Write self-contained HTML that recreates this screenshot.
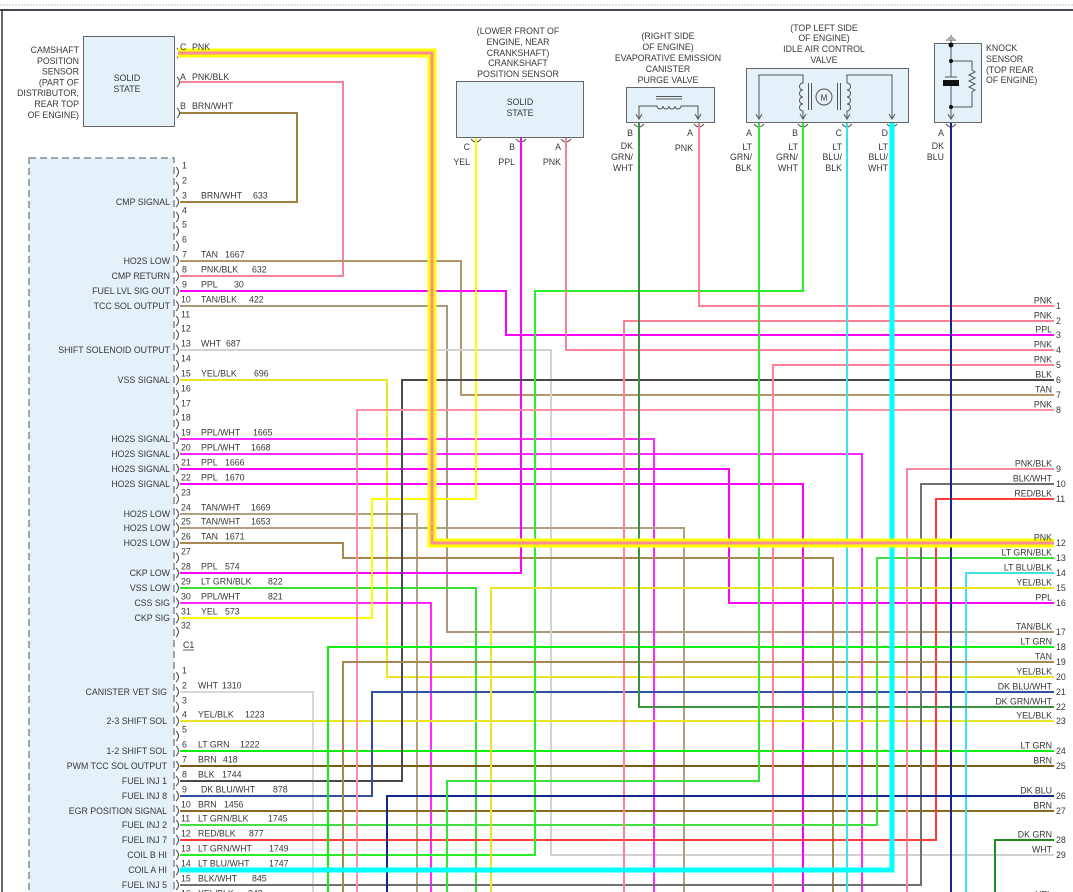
<!DOCTYPE html>
<html><head><meta charset="utf-8">
<style>
html,body{margin:0;padding:0;background:#fff;}
svg{display:block;}
text{font-family:"Liberation Sans",Arial,sans-serif;font-size:8.8px;fill:#383838;}
.e{text-anchor:end;}
.m{text-anchor:middle;}
</style></head><body>
<svg width="1073" height="892" viewBox="0 0 1073 892" xmlns="http://www.w3.org/2000/svg">
<rect width="1073" height="892" fill="#fff"/>
<!-- frame -->
<line x1="0" y1="5" x2="1073" y2="5" stroke="#c4c4c4" stroke-dasharray="2,1"/>
<line x1="0" y1="10" x2="1073" y2="10" stroke="#4a4450" stroke-width="2"/>
<line x1="2" y1="10" x2="2" y2="892" stroke="#333" stroke-width="1.5"/>

<!-- boxes -->
<rect x="29" y="158" width="145" height="760" fill="#e4f1f8" stroke="#8a8a8a" stroke-width="1.5" stroke-dasharray="7,4"/>
<rect x="83.5" y="36.5" width="91" height="90" fill="#e4f1f8" stroke="#666"/>
<rect x="456.5" y="81.5" width="127" height="56" fill="#e4f1f8" stroke="#666"/>
<rect x="626.5" y="87.5" width="88" height="35" fill="#e4f1f8" stroke="#666"/>
<rect x="746.5" y="68.5" width="162" height="54" fill="#e4f1f8" stroke="#666"/>
<rect x="934.5" y="43.5" width="47" height="79" fill="#e4f1f8" stroke="#666"/>

<!-- evap internals -->
<g fill="none" stroke="#555" stroke-width="1">
<line x1="656" y1="96.5" x2="682" y2="96.5"/>
<line x1="656" y1="99" x2="682" y2="99"/>
<path d="M639,119V106H657 a3,3 0 0 0 6,0 a3,3 0 0 0 6,0 a3,3 0 0 0 6,0 a3,3 0 0 0 6,0 H698V119"/>
<path d="M636,114L639,119L642,114M695,114L698,119L701,114"/>
<!-- IAC internals -->
<path d="M759,119V75H803V83 a3.5,3.5 0 0 0 0,7 a3.5,3.5 0 0 0 0,7 a3.5,3.5 0 0 0 0,7 a3.5,3.5 0 0 0 0,7 V119"/>
<line x1="808.5" y1="83" x2="808.5" y2="110"/>
<line x1="811.5" y1="83" x2="811.5" y2="110"/>
<circle cx="824" cy="97" r="8"/>
<line x1="837.5" y1="83" x2="837.5" y2="110"/>
<line x1="840.5" y1="83" x2="840.5" y2="110"/>
<path d="M847,119V111 a3.5,3.5 0 0 0 0,-7 a3.5,3.5 0 0 0 0,-7 a3.5,3.5 0 0 0 0,-7 a3.5,3.5 0 0 0 0,-7 V75H892V119"/>
<path d="M756,114L759,119L762,114M800,114L803,119L806,114M844,114L847,119L850,114M889,114L892,119L895,114"/>
<!-- knock internals -->
<path d="M951,44V77M951,86V119M951,61H972V70 l3,2 -6,3 6,3 -6,3 6,3 -6,3 6,3 -3,2 V107H951"/>
<line x1="945" y1="77" x2="957" y2="77"/>
<path d="M948,114L951,119L954,114"/>
<line x1="946" y1="40" x2="956" y2="40"/>
<line x1="948" y1="38" x2="954" y2="38"/>
<line x1="950" y1="36" x2="952" y2="36"/>
<line x1="951" y1="40" x2="951" y2="44"/>
<!-- arcs below sensors -->
<path d="M471,139Q476,145 481,139M516,139Q521,145 526,139M561,139Q566,145 571,139"/>
<path d="M634,124Q639,130 644,124M694,124Q699,130 704,124"/>
<path d="M754,124Q759,130 764,124M798,124Q803,130 808,124M842,124Q847,130 852,124M887,124Q892,130 897,124M946,124Q951,130 956,124"/>
</g>
<rect x="943" y="80" width="16" height="6" fill="#111"/>
<circle cx="951" cy="45" r="2.5" fill="#111"/>
<circle cx="951" cy="61" r="2" fill="#111"/>
<circle cx="951" cy="107" r="2" fill="#111"/>
<text x="824" y="100.5" class="m" style="font-size:8px">M</text>

<!-- brackets -->
<path fill="none" stroke="#555" stroke-width="1.1" d="M177,48Q182,53 177,58M177,77Q182,82 177,87M177,108Q182,113 177,118
M176,167Q181,172 176,177M176,182Q181,187 176,192M176,197Q181,202 176,207M176,212Q181,217 176,222M176,226Q181,231 176,236M176,241Q181,246 176,251M176,256Q181,261 176,266M176,271Q181,276 176,281M176,286Q181,291 176,296M176,301Q181,306 176,311M176,316Q181,321 176,326M176,330Q181,335 176,340M176,345Q181,350 176,355M176,360Q181,365 176,370M176,375Q181,380 176,385M176,390Q181,395 176,400M176,405Q181,410 176,415M176,419Q181,424 176,429M176,434Q181,439 176,444M176,449Q181,454 176,459M176,464Q181,469 176,474M176,479Q181,484 176,489M176,494Q181,499 176,504M176,509Q181,514 176,519M176,523Q181,528 176,533M176,538Q181,543 176,548M176,553Q181,558 176,563M176,568Q181,573 176,578M176,583Q181,588 176,593M176,598Q181,603 176,608M176,613Q181,618 176,623M176,627Q181,632 176,637
M176,672Q181,677 176,682M176,687Q181,692 176,697M176,702Q181,707 176,712M176,716Q181,721 176,726M176,731Q181,736 176,741M176,746Q181,751 176,756M176,761Q181,766 176,771M176,776Q181,781 176,786M176,791Q181,796 176,801M176,806Q181,811 176,816M176,820Q181,825 176,830M176,835Q181,840 176,845M176,850Q181,855 176,860M176,865Q181,870 176,875M176,880Q181,885 176,890"/>

<!-- wires -->
<g fill="none" stroke-width="2">
<path d="M180,82H343V276H180" stroke="#f5849a"/>
<path d="M180,113H297V202H180" stroke="#a08040"/>
<path d="M180,261H461V395H1054" stroke="#b09868"/>
<path d="M180,291H506V335H1054" stroke="#ff00ff"/>
<path d="M180,306H447V632H1054" stroke="#a89a78"/>
<path d="M180,350H551V855H1054" stroke="#d2d2d2"/>
<path d="M180,380H387V677H1054" stroke="#ece424"/>
<path d="M180,439H654V892" stroke="#ff28ff"/>
<path d="M180,454H862V892" stroke="#ff28ff"/>
<path d="M180,469H729V603H1054" stroke="#ff00ff"/>
<path d="M180,484H803V892" stroke="#ff00ff"/>
<path d="M180,514H417V892" stroke="#b0a080"/>
<path d="M180,528H684V892" stroke="#b0a080"/>
<path d="M180,543H343V558H833V892" stroke="#a88850"/>
<path d="M180,573H521V138" stroke="#ff00ff"/>
<path d="M180,588H476V892" stroke="#38e038"/>
<path d="M180,603H431V892" stroke="#ff28ff"/>
<path d="M180,618H372V499H476V138" stroke="#ffff00"/>
<path d="M180,692H313V892" stroke="#d8d8d8"/>
<path d="M180,721H1054" stroke="#ece424"/>
<path d="M180,751H1054" stroke="#10ee10"/>
<path d="M180,766H1054" stroke="#7a5a14"/>
<path d="M180,781H402V380H1054" stroke="#4a4a4a"/>
<path d="M180,796H372V692H1054" stroke="#3050a8"/>
<path d="M180,811H1054" stroke="#8a6a24"/>
<path d="M180,825H877V558H1054" stroke="#40e040"/>
<path d="M180,840H936V499H1054" stroke="#ff3838"/>
<path d="M180,855H535V291H803V123" stroke="#28f028"/>
<path d="M180,885H921V484H1054" stroke="#707070"/>
<path d="M699,123V306H1054" stroke="#ff7f95"/>
<path d="M624,892V321H1054" stroke="#ff7f95"/>
<path d="M566,138V350H1054" stroke="#ff7f95"/>
<path d="M773,892V365H1054" stroke="#ff7f95"/>
<path d="M357,892V410H1054" stroke="#ff8fa5"/>
<path d="M907,892V469H1054" stroke="#f888a0"/>
<path d="M966,892V573H1054" stroke="#40e0e8"/>
<path d="M491,892V588H1054" stroke="#ece424"/>
<path d="M328,892V647H1054" stroke="#10ee10"/>
<path d="M343,892V662H1054" stroke="#a88850"/>
<path d="M639,123V707H1054" stroke="#3c9040"/>
<path d="M387,892V796H1054" stroke="#102890"/>
<path d="M995,892V840H1054" stroke="#208c20"/>
<path d="M759,123V781H447V892" stroke="#38e038"/>
<path d="M847,123V892" stroke="#40e0e8"/>
<path d="M180,870H892V123" stroke="#00ffff" stroke-width="5"/>
<path d="M951,123V892" stroke="#102890"/>
<path d="M178,53H432V543H1054" stroke="#ffff00" stroke-width="9"/>
<path d="M178,53H432V543H1054" stroke="#ff8a9a" stroke-width="3"/>
</g>

<!-- camshaft sensor text -->
<text x="79" y="53" class="e">CAMSHAFT</text>
<text x="79" y="64" class="e">POSITION</text>
<text x="79" y="74.6" class="e">SENSOR</text>
<text x="79" y="85.4" class="e">(PART OF</text>
<text x="79" y="96.2" class="e">DISTRIBUTOR,</text>
<text x="79" y="107" class="e">REAR TOP</text>
<text x="79" y="117.8" class="e">OF ENGINE)</text>
<text x="127" y="81" class="m">SOLID</text>
<text x="127" y="92" class="m">STATE</text>
<text x="180" y="50">C</text><text x="192" y="50">PNK</text>
<text x="180" y="80">A</text><text x="192" y="80">PNK/BLK</text>
<text x="180" y="109">B</text><text x="192" y="109">BRN/WHT</text>

<!-- CKP sensor -->
<text x="518" y="34" class="m">(LOWER FRONT OF</text>
<text x="518" y="45" class="m">ENGINE, NEAR</text>
<text x="518" y="56" class="m">CRANKSHAFT)</text>
<text x="518" y="66" class="m">CRANKSHAFT</text>
<text x="518" y="77" class="m">POSITION SENSOR</text>
<text x="520" y="105" class="m">SOLID</text>
<text x="520" y="116" class="m">STATE</text>
<text x="470" y="150" class="e">C</text><text x="470" y="165" class="e">YEL</text>
<text x="515" y="150" class="e">B</text><text x="515" y="165" class="e">PPL</text>
<text x="561" y="150" class="e">A</text><text x="561" y="165" class="e">PNK</text>

<!-- evap -->
<text x="668" y="39" class="m">(RIGHT SIDE</text>
<text x="668" y="50" class="m">OF ENGINE)</text>
<text x="668" y="61" class="m">EVAPORATIVE EMISSION</text>
<text x="668" y="72" class="m">CANISTER</text>
<text x="668" y="83" class="m">PURGE VALVE</text>
<text x="633" y="136" class="e">B</text>
<text x="633" y="149" class="e">DK</text>
<text x="633" y="160" class="e">GRN/</text>
<text x="633" y="171" class="e">WHT</text>
<text x="693" y="136" class="e">A</text>
<text x="693" y="151" class="e">PNK</text>

<!-- IAC -->
<text x="824" y="31" class="m">(TOP LEFT SIDE</text>
<text x="824" y="41" class="m">OF ENGINE)</text>
<text x="824" y="52" class="m">IDLE AIR CONTROL</text>
<text x="824" y="63" class="m">VALVE</text>
<text x="752" y="136" class="e">A</text><text x="752" y="150" class="e">LT</text><text x="752" y="160" class="e">GRN/</text><text x="752" y="171" class="e">BLK</text>
<text x="798" y="136" class="e">B</text><text x="798" y="150" class="e">LT</text><text x="798" y="160" class="e">GRN/</text><text x="798" y="171" class="e">WHT</text>
<text x="842" y="136" class="e">C</text><text x="842" y="150" class="e">LT</text><text x="842" y="160" class="e">BLU/</text><text x="842" y="171" class="e">BLK</text>
<text x="888" y="136" class="e">D</text><text x="888" y="150" class="e">LT</text><text x="888" y="160" class="e">BLU/</text><text x="888" y="171" class="e">WHT</text>

<!-- knock -->
<text x="986" y="51">KNOCK</text>
<text x="986" y="62">SENSOR</text>
<text x="986" y="73">(TOP REAR</text>
<text x="986" y="83">OF ENGINE)</text>
<text x="944" y="136" class="e">A</text>
<text x="944" y="149" class="e">DK</text>
<text x="944" y="160" class="e">BLU</text>

<!-- connector 1 pin numbers -->
<g>
<text x="182" y="168.5">1</text><text x="182" y="183.5">2</text><text x="182" y="198.5">3</text><text x="182" y="213.5">4</text>
<text x="182" y="227.5">5</text><text x="182" y="242.5">6</text><text x="182" y="257.5">7</text><text x="182" y="272.5">8</text>
<text x="182" y="287.5">9</text><text x="181" y="302.5">10</text><text x="181" y="317.5">11</text><text x="181" y="331.5">12</text>
<text x="181" y="346.5">13</text><text x="181" y="361.5">14</text><text x="181" y="376.5">15</text><text x="181" y="391.5">16</text>
<text x="181" y="406.5">17</text><text x="181" y="420.5">18</text><text x="181" y="435.5">19</text><text x="181" y="450.5">20</text>
<text x="181" y="465.5">21</text><text x="181" y="480.5">22</text><text x="181" y="495.5">23</text><text x="181" y="510.5">24</text>
<text x="181" y="524.5">25</text><text x="181" y="539.5">26</text><text x="181" y="554.5">27</text><text x="181" y="569.5">28</text>
<text x="181" y="584.5">29</text><text x="181" y="599.5">30</text><text x="181" y="614.5">31</text><text x="181" y="628.5">32</text>
</g>
<text x="183" y="648">C1</text>
<line x1="183" y1="650" x2="194" y2="650" stroke="#383838" stroke-width="0.8"/>
<!-- C2 pin numbers -->
<g>
<text x="182" y="673.5">1</text><text x="182" y="688.5">2</text><text x="182" y="703.5">3</text><text x="182" y="717.5">4</text>
<text x="182" y="732.5">5</text><text x="182" y="747.5">6</text><text x="182" y="762.5">7</text><text x="182" y="777.5">8</text>
<text x="182" y="792.5">9</text><text x="181" y="807.5">10</text><text x="181" y="821.5">11</text><text x="181" y="836.5">12</text>
<text x="181" y="851.5">13</text><text x="181" y="866.5">14</text><text x="181" y="881.5">15</text><text x="181" y="896.5">16</text>
</g>

<!-- connector 1 annotations -->
<text x="201" y="198.5">BRN/WHT</text><text x="253" y="198.5">633</text>
<text x="201" y="257.5">TAN</text><text x="225" y="257.5">1667</text>
<text x="201" y="272.5">PNK/BLK</text><text x="252" y="272.5">632</text>
<text x="201" y="287.5">PPL</text><text x="234" y="287.5">30</text>
<text x="201" y="302.5">TAN/BLK</text><text x="249" y="302.5">422</text>
<text x="201" y="346.5">WHT</text><text x="226" y="346.5">687</text>
<text x="201" y="376.5">YEL/BLK</text><text x="254" y="376.5">696</text>
<text x="201" y="435.5">PPL/WHT</text><text x="253" y="435.5">1665</text>
<text x="201" y="450.5">PPL/WHT</text><text x="251" y="450.5">1668</text>
<text x="201" y="465.5">PPL</text><text x="225" y="465.5">1666</text>
<text x="201" y="480.5">PPL</text><text x="225" y="480.5">1670</text>
<text x="201" y="510.5">TAN/WHT</text><text x="251" y="510.5">1669</text>
<text x="201" y="524.5">TAN/WHT</text><text x="251" y="524.5">1653</text>
<text x="201" y="539.5">TAN</text><text x="225" y="539.5">1671</text>
<text x="201" y="569.5">PPL</text><text x="225" y="569.5">574</text>
<text x="201" y="584.5">LT GRN/BLK</text><text x="268" y="584.5">822</text>
<text x="201" y="599.5">PPL/WHT</text><text x="268" y="599.5">821</text>
<text x="201" y="614.5">YEL</text><text x="225" y="614.5">573</text>

<!-- C2 annotations -->
<text x="198" y="688.5">WHT</text><text x="222" y="688.5">1310</text>
<text x="198" y="717.5">YEL/BLK</text><text x="245" y="717.5">1223</text>
<text x="198" y="747.5">LT GRN</text><text x="240" y="747.5">1222</text>
<text x="198" y="762.5">BRN</text><text x="223" y="762.5">418</text>
<text x="198" y="777.5">BLK</text><text x="222" y="777.5">1744</text>
<text x="201" y="792.5">DK BLU/WHT</text><text x="273" y="792.5">878</text>
<text x="198" y="807.5">BRN</text><text x="224" y="807.5">1456</text>
<text x="198" y="821.5">LT GRN/BLK</text><text x="268" y="821.5">1745</text>
<text x="198" y="836.5">RED/BLK</text><text x="249" y="836.5">877</text>
<text x="198" y="851.5">LT GRN/WHT</text><text x="269" y="851.5">1749</text>
<text x="198" y="866.5">LT BLU/WHT</text><text x="269" y="866.5">1747</text>
<text x="198" y="881.5">BLK/WHT</text><text x="252" y="881.5">845</text>
<text x="198" y="896.5">YEL/BLK</text><text x="248" y="896.5">848</text>

<!-- connector 1 labels -->
<g>
<text x="170" y="205" class="e">CMP SIGNAL</text>
<text x="170" y="264" class="e">HO2S LOW</text>
<text x="170" y="279" class="e">CMP RETURN</text>
<text x="170" y="294" class="e">FUEL LVL SIG OUT</text>
<text x="170" y="309" class="e">TCC SOL OUTPUT</text>
<text x="170" y="353" class="e">SHIFT SOLENOID OUTPUT</text>
<text x="170" y="383" class="e">VSS SIGNAL</text>
<text x="170" y="442" class="e">HO2S SIGNAL</text>
<text x="170" y="457" class="e">HO2S SIGNAL</text>
<text x="170" y="472" class="e">HO2S SIGNAL</text>
<text x="170" y="487" class="e">HO2S SIGNAL</text>
<text x="170" y="517" class="e">HO2S LOW</text>
<text x="170" y="531" class="e">HO2S LOW</text>
<text x="170" y="546" class="e">HO2S LOW</text>
<text x="170" y="576" class="e">CKP LOW</text>
<text x="170" y="591" class="e">VSS LOW</text>
<text x="170" y="606" class="e">CSS SIG</text>
<text x="170" y="621" class="e">CKP SIG</text>
<text x="167" y="695" class="e">CANISTER VET SIG</text>
<text x="167" y="724" class="e">2-3 SHIFT SOL</text>
<text x="167" y="754" class="e">1-2 SHIFT SOL</text>
<text x="167" y="769" class="e">PWM TCC SOL OUTPUT</text>
<text x="167" y="784" class="e">FUEL INJ 1</text>
<text x="167" y="799" class="e">FUEL INJ 8</text>
<text x="167" y="814" class="e">EGR POSITION SIGNAL</text>
<text x="167" y="828" class="e">FUEL INJ 2</text>
<text x="167" y="843" class="e">FUEL INJ 7</text>
<text x="167" y="858" class="e">COIL B HI</text>
<text x="167" y="873" class="e">COIL A HI</text>
<text x="167" y="888" class="e">FUEL INJ 5</text>
</g>

<!-- right terminal labels -->
<text x="1052" y="303.5" class="e">PNK</text><text x="1056" y="309">1</text>
<text x="1052" y="318.5" class="e">PNK</text><text x="1056" y="324">2</text>
<text x="1052" y="332.5" class="e">PPL</text><text x="1056" y="338">3</text>
<text x="1052" y="347.5" class="e">PNK</text><text x="1056" y="353">4</text>
<text x="1052" y="362.5" class="e">PNK</text><text x="1056" y="368">5</text>
<text x="1052" y="377.5" class="e">BLK</text><text x="1056" y="383">6</text>
<text x="1052" y="392.5" class="e">TAN</text><text x="1056" y="398">7</text>
<text x="1052" y="407.5" class="e">PNK</text><text x="1056" y="413">8</text>
<text x="1052" y="466.5" class="e">PNK/BLK</text><text x="1056" y="472">9</text>
<text x="1052" y="481.5" class="e">BLK/WHT</text><text x="1056" y="487">10</text>
<text x="1052" y="496.5" class="e">RED/BLK</text><text x="1056" y="502">11</text>
<text x="1052" y="540.5" class="e">PNK</text><text x="1056" y="546">12</text>
<text x="1052" y="555.5" class="e">LT GRN/BLK</text><text x="1056" y="561">13</text>
<text x="1052" y="570.5" class="e">LT BLU/BLK</text><text x="1056" y="576">14</text>
<text x="1052" y="585.5" class="e">YEL/BLK</text><text x="1056" y="591">15</text>
<text x="1052" y="600.5" class="e">PPL</text><text x="1056" y="606">16</text>
<text x="1052" y="629.5" class="e">TAN/BLK</text><text x="1056" y="635">17</text>
<text x="1052" y="644.5" class="e">LT GRN</text><text x="1056" y="650">18</text>
<text x="1052" y="659.5" class="e">TAN</text><text x="1056" y="665">19</text>
<text x="1052" y="674.5" class="e">YEL/BLK</text><text x="1056" y="680">20</text>
<text x="1052" y="689.5" class="e">DK BLU/WHT</text><text x="1056" y="695">21</text>
<text x="1052" y="704.5" class="e">DK GRN/WHT</text><text x="1056" y="710">22</text>
<text x="1052" y="718.5" class="e">YEL/BLK</text><text x="1056" y="724">23</text>
<text x="1052" y="748.5" class="e">LT GRN</text><text x="1056" y="754">24</text>
<text x="1052" y="763.5" class="e">BRN</text><text x="1056" y="769">25</text>
<text x="1052" y="793.5" class="e">DK BLU</text><text x="1056" y="799">26</text>
<text x="1052" y="808.5" class="e">BRN</text><text x="1056" y="814">27</text>
<text x="1052" y="837.5" class="e">DK GRN</text><text x="1056" y="843">28</text>
<text x="1052" y="852.5" class="e">WHT</text><text x="1056" y="858">29</text>
<text x="1052" y="897.5" class="e">YEL</text>
</svg>
</body></html>
